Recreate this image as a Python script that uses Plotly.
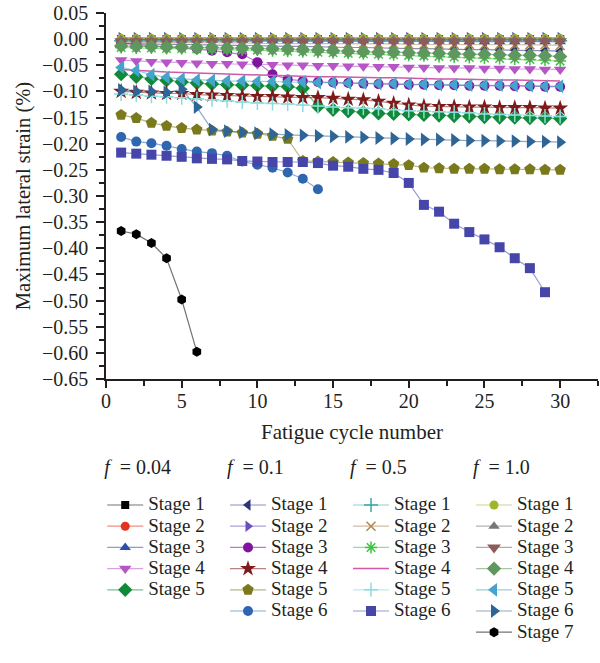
import plotly.graph_objects as go

# ---------------- data ----------------
cycles30 = list(range(1, 31))
cycles29 = list(range(1, 30))
cycles14 = list(range(1, 15))
cycles6 = list(range(1, 7))

# f = 0.04
f004_s1 = [0.000] * 30
f004_s2 = [-0.001] * 30
f004_s3 = [-0.001, -0.001, -0.001, -0.001, -0.002, -0.002, -0.002, -0.002, -0.002, -0.002,
           -0.003, -0.003, -0.003, -0.003, -0.003, -0.003, -0.003, -0.004, -0.004, -0.004,
           -0.004, -0.004, -0.004, -0.005, -0.005, -0.005, -0.005, -0.005, -0.005, -0.005]
f004_s4 = [-0.040, -0.042, -0.043, -0.044, -0.045, -0.046, -0.047, -0.047, -0.048, -0.048,
           -0.049, -0.050, -0.050, -0.051, -0.051, -0.052, -0.052, -0.053, -0.053, -0.054,
           -0.054, -0.055, -0.055, -0.055, -0.056, -0.056, -0.057, -0.057, -0.058, -0.058]
f004_s5 = [-0.067, -0.072, -0.076, -0.079, -0.082, -0.084, -0.086, -0.087, -0.088, -0.089,
           -0.090, -0.091, -0.094, -0.129, -0.135, -0.138, -0.140, -0.142, -0.143, -0.144,
           -0.145, -0.146, -0.147, -0.148, -0.149, -0.150, -0.150, -0.151, -0.151, -0.152]

# f = 0.1
f01_s1 = [-0.008, -0.009, -0.009, -0.010, -0.010, -0.011, -0.011, -0.012, -0.012, -0.013,
          -0.013, -0.014, -0.014, -0.015, -0.015, -0.016, -0.016, -0.017, -0.017, -0.018,
          -0.018, -0.019, -0.019, -0.020, -0.020, -0.021, -0.021, -0.022, -0.022, -0.023]
f01_s2 = [0.003] * 30
f01_s3 = [-0.008, -0.010, -0.012, -0.014, -0.016, -0.019, -0.022, -0.025, -0.029, -0.044,
          -0.067, -0.077, -0.080, -0.082, -0.083, -0.084, -0.085, -0.086, -0.086, -0.087,
          -0.087, -0.088, -0.088, -0.089, -0.089, -0.089, -0.090, -0.090, -0.091, -0.091]
f01_s4 = [-0.100, -0.102, -0.103, -0.104, -0.104, -0.106, -0.107, -0.108, -0.109, -0.110,
          -0.110, -0.111, -0.112, -0.112, -0.113, -0.115, -0.116, -0.119, -0.123, -0.126,
          -0.128, -0.129, -0.129, -0.130, -0.130, -0.131, -0.131, -0.131, -0.132, -0.132]
f01_s5 = [-0.145, -0.151, -0.160, -0.166, -0.170, -0.173, -0.175, -0.177, -0.179, -0.181,
          -0.185, -0.191, -0.233, -0.234, -0.235, -0.236, -0.237, -0.238, -0.239, -0.241,
          -0.246, -0.247, -0.248, -0.248, -0.248, -0.249, -0.249, -0.249, -0.250, -0.250]
f01_s6 = [-0.187, -0.196, -0.199, -0.204, -0.210, -0.215, -0.218, -0.223, -0.234, -0.240,
          -0.246, -0.255, -0.267, -0.287]

# f = 0.5
f05_s1 = [-0.003] * 30
f05_s2 = [-0.006, -0.006, -0.006, -0.006, -0.007, -0.007, -0.007, -0.007, -0.007, -0.008,
          -0.008, -0.008, -0.008, -0.008, -0.009, -0.009, -0.009, -0.009, -0.009, -0.010,
          -0.010, -0.010, -0.010, -0.010, -0.011, -0.011, -0.011, -0.011, -0.011, -0.012]
f05_s3 = [-0.016, -0.017, -0.017, -0.018, -0.018, -0.019, -0.019, -0.020, -0.021, -0.021,
          -0.022, -0.023, -0.024, -0.025, -0.026, -0.027, -0.028, -0.029, -0.030, -0.031,
          -0.032, -0.033, -0.034, -0.035, -0.036, -0.037, -0.038, -0.039, -0.040, -0.042]
f05_s4 = [-0.058, -0.060, -0.062, -0.063, -0.064, -0.065, -0.066, -0.067, -0.068, -0.069,
          -0.070, -0.071, -0.071, -0.072, -0.072, -0.073, -0.073, -0.074, -0.074, -0.075,
          -0.075, -0.076, -0.076, -0.077, -0.077, -0.078, -0.078, -0.079, -0.079, -0.080]
f05_s5 = [-0.105, -0.107, -0.109, -0.110, -0.112, -0.114, -0.116, -0.118, -0.120, -0.122,
          -0.123, -0.124, -0.126, -0.128, -0.130, -0.131, -0.132, -0.133, -0.135, -0.137,
          -0.138, -0.139, -0.140, -0.141, -0.143, -0.144, -0.145, -0.146, -0.147, -0.148]
f05_s6 = [-0.217, -0.219, -0.221, -0.223, -0.225, -0.228, -0.229, -0.230, -0.233, -0.234,
          -0.235, -0.235, -0.235, -0.237, -0.242, -0.244, -0.248, -0.250, -0.256, -0.275,
          -0.317, -0.330, -0.353, -0.369, -0.383, -0.398, -0.419, -0.438, -0.484]

# f = 1.0
f10_s1 = [0.001] * 30
f10_s2 = [-0.001] * 30
f10_s3 = [-0.004] * 30
f10_s4 = [-0.013, -0.014, -0.014, -0.015, -0.015, -0.016, -0.016, -0.017, -0.017, -0.018,
          -0.018, -0.019, -0.020, -0.021, -0.022, -0.023, -0.024, -0.025, -0.025, -0.026,
          -0.027, -0.027, -0.028, -0.029, -0.029, -0.030, -0.031, -0.031, -0.032, -0.033]
f10_s5 = [-0.054, -0.060, -0.068, -0.073, -0.076, -0.078, -0.079, -0.080, -0.080, -0.081,
          -0.081, -0.082, -0.082, -0.083, -0.083, -0.084, -0.084, -0.085, -0.085, -0.086,
          -0.086, -0.087, -0.087, -0.088, -0.088, -0.088, -0.089, -0.089, -0.090, -0.090]
f10_s6 = [-0.097, -0.100, -0.100, -0.102, -0.096, -0.130, -0.173, -0.176, -0.178, -0.180,
          -0.182, -0.183, -0.184, -0.185, -0.186, -0.187, -0.188, -0.189, -0.190, -0.191,
          -0.192, -0.192, -0.193, -0.194, -0.194, -0.195, -0.195, -0.196, -0.196, -0.197]
f10_s7 = [-0.367, -0.373, -0.390, -0.419, -0.498, -0.598]

group_titles = ["<i>f</i>\u00a0\u00a0= 0.04", "<i>f</i>\u00a0\u00a0= 0.1",
                "<i>f</i>\u00a0\u00a0= 0.5", "<i>f</i>\u00a0\u00a0= 1.0"]
x_tick_vals = [0, 5, 10, 15, 20, 25, 30]
y_tick_vals = [0.05, 0.0, -0.05, -0.10, -0.15, -0.20, -0.25, -0.30, -0.35, -0.40,
               -0.45, -0.50, -0.55, -0.60, -0.65]
y_tick_text = ["0.05", "0.00", "\u22120.05", "\u22120.10", "\u22120.15", "\u22120.20",
               "\u22120.25", "\u22120.30", "\u22120.35", "\u22120.40", "\u22120.45",
               "\u22120.50", "\u22120.55", "\u22120.60", "\u22120.65"]

# ---------------- styles ----------------
def rgba(h, a):
    h = h.lstrip('#')
    return 'rgba(%d,%d,%d,%.2f)' % (int(h[0:2], 16), int(h[2:4], 16), int(h[4:6], 16), a)

series = [
    # (legend, name, x, y, color, symbol, size)
    ("legend", "Stage 1", cycles30, f004_s1, "#000000", "square", 8),
    ("legend", "Stage 2", cycles30, f004_s2, "#E5321F", "circle", 9),
    ("legend", "Stage 3", cycles30, f004_s3, "#2D4FAA", "triangle-up", 10),
    ("legend", "Stage 4", cycles30, f004_s4, "#B655C6", "triangle-down", 11),
    ("legend", "Stage 5", cycles30, f004_s5, "#108A38", "diamond", 11),
    ("legend2", "Stage 1", cycles30, f01_s1, "#2B3479", "triangle-left", 10),
    ("legend2", "Stage 2", cycles30, f01_s2, "#6B4FBE", "triangle-right", 10),
    ("legend2", "Stage 3", cycles30, f01_s3, "#7E14A0", "circle", 10),
    ("legend2", "Stage 4", cycles30, f01_s4, "#7F1A1A", "star", 12),
    ("legend2", "Stage 5", cycles30, f01_s5, "#7A7A1C", "pentagon", 12),
    ("legend2", "Stage 6", cycles14, f01_s6, "#2E66B0", "circle", 10),
    ("legend3", "Stage 1", cycles30, f05_s1, "#3AA6A2", "cross-thin", 10),
    ("legend3", "Stage 2", cycles30, f05_s2, "#B0874F", "x-thin", 9),
    ("legend3", "Stage 3", cycles30, f05_s3, "#3EC43E", "asterisk", 10),
    ("legend3", "Stage 4", cycles30, f05_s4, "#D05AA8", None, 0),
    ("legend3", "Stage 5", cycles30, f05_s5, "#8ADCDD", "cross-thin", 10),
    ("legend3", "Stage 6", cycles29, f05_s6, "#4545AA", "square", 10),
    ("legend4", "Stage 1", cycles30, f10_s1, "#9FB52A", "circle", 9),
    ("legend4", "Stage 2", cycles30, f10_s2, "#777777", "triangle-up", 10),
    ("legend4", "Stage 3", cycles30, f10_s3, "#8E5B5B", "triangle-down", 12),
    ("legend4", "Stage 4", cycles30, f10_s4, "#5E985E", "diamond", 11),
    ("legend4", "Stage 5", cycles30, f10_s5, "#45A4CB", "triangle-left", 12),
    ("legend4", "Stage 6", cycles30, f10_s6, "#2E6596", "triangle-right", 12),
    ("legend4", "Stage 7", cycles6, f10_s7, "#000000", "hexagon", 10),
]

FONT = "Liberation Serif"
TXT = "#231F20"
LEG_TXT = 19

fig = go.Figure()
for leg, name, xs, ys, col, sym, sz in series:
    label = "<span style='font-size:%dpx'>%s</span>" % (LEG_TXT, name)
    if sym is None:
        fig.add_trace(go.Scatter(x=xs, y=ys, mode="lines", name=label, legend=leg,
                                 line=dict(color=col, width=1.5)))
    else:
        mk = dict(color=col, symbol=sym, size=sz, line=dict(width=0, color=col))
        if sym in ("cross-thin", "x-thin", "asterisk"):
            mk["line"] = dict(width=1.5, color=col)
        fig.add_trace(go.Scatter(x=xs, y=ys, mode="lines+markers", name=label, legend=leg,
                                 line=dict(color=rgba(col, 0.55), width=1.2), marker=mk))

leg_common = dict(font=dict(family=FONT, size=14, color=TXT),
                  bgcolor="rgba(0,0,0,0)", orientation="v",
                  xanchor="left", yanchor="top", y=-0.22, itemwidth=36,
                  tracegroupgap=0)
legend_x = [-0.0077, 0.2419, 0.4919, 0.7419]
legends = {}
for i, key in enumerate(["legend", "legend2", "legend3", "legend4"]):
    d = dict(leg_common)
    d["x"] = legend_x[i]
    d["title"] = dict(text="<span style='font-size:%dpx'>%s</span><br><span style='font-size:2px'>\u00a0</span>"
                      % (LEG_TXT + 1, group_titles[i]),
                      font=dict(family=FONT, size=11.5, color=TXT))
    legends[key] = d

fig.update_layout(
    width=600, height=663,
    margin=dict(l=106, r=2, t=13, b=284),
    plot_bgcolor="white", paper_bgcolor="white",
    font=dict(family=FONT, size=20, color=TXT),
    showlegend=True,
    **legends,
)
fig.update_xaxes(range=[0, 32.5], tickvals=x_tick_vals, ticks="outside", ticklen=7,
                 tickwidth=1.5, linecolor=TXT, linewidth=1.5, showline=True, tickcolor=TXT,
                 showgrid=False, zeroline=False, tickfont=dict(family=FONT, size=20),
                 automargin=False, ticklabelstandoff=-4,
                 minor=dict(dtick=2.5, tick0=0, ticks="outside", ticklen=5, tickwidth=1.5,
                            tickcolor=TXT),
                 title=dict(text="Fatigue cycle number", font=dict(family=FONT, size=21),
                            standoff=14))
fig.update_yaxes(range=[-0.65, 0.05], tickvals=y_tick_vals, ticktext=y_tick_text,
                 ticks="outside", ticklen=8, tickwidth=1.5, linecolor=TXT, tickcolor=TXT,
                 linewidth=1.5, showline=True, showgrid=False, zeroline=False,
                 tickfont=dict(family=FONT, size=20), automargin=False,
                 ticklabelstandoff=4,
                 minor=dict(dtick=0.025, tick0=0, ticks="outside", ticklen=5, tickwidth=1.5,
                            tickcolor=TXT),
                 title=dict(text="Maximum lateral strain (%)", font=dict(family=FONT, size=20.5),
                            standoff=6))

fig.write_html("out.html", config={"displayModeBar": False},
               post_script="document.body.style.margin='0';document.body.style.overflow='hidden';")
